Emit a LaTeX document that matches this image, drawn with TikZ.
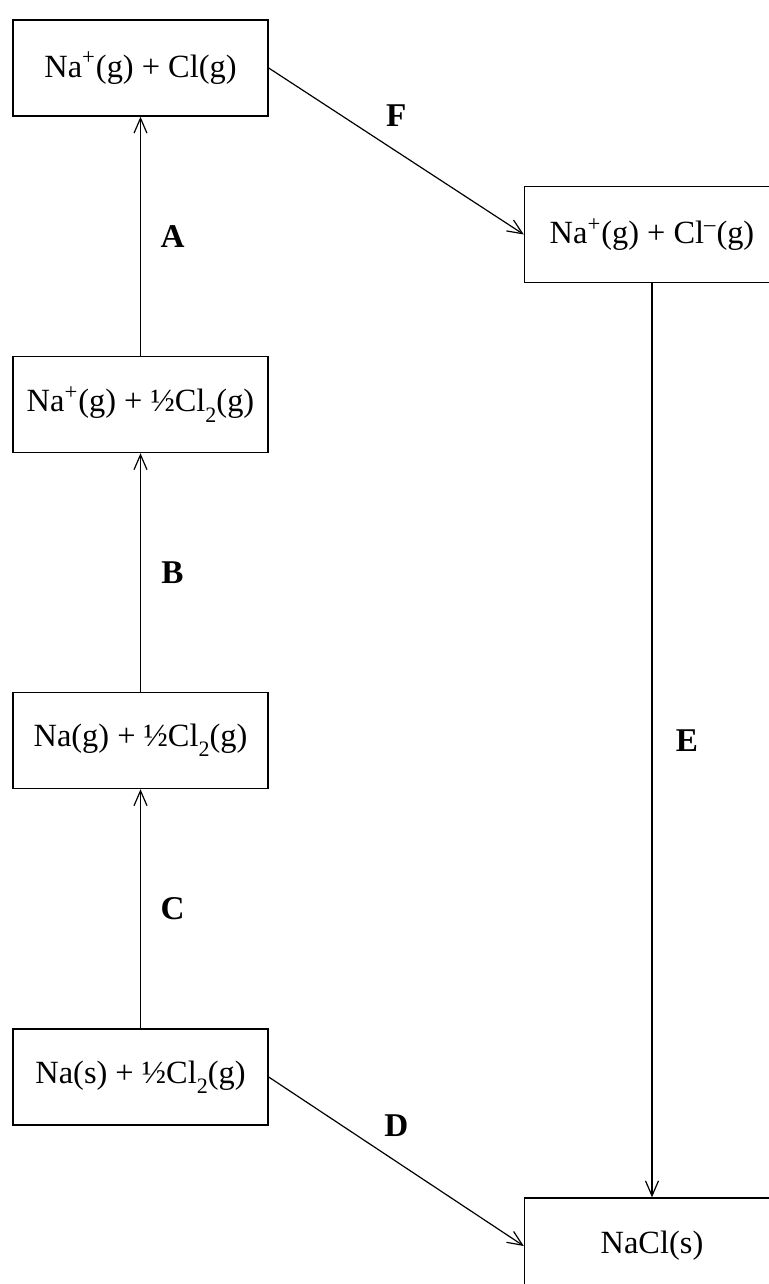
\documentclass[tikz,border=0pt]{standalone}
\usepackage{fontspec}
\setmainfont{Liberation Serif}
\usetikzlibrary{positioning,arrows.meta}
\newcommand\lowtwo{\raisebox{-0.32em}{\fontsize{11}{11}\selectfont 2}}
\newcommand\halfCl{\textonehalf Cl\lowtwo(g)}
\tikzset{
    species/.style={draw, line width=0.7pt, minimum width=127.5pt, minimum height=48pt,
        inner sep=0pt, font=\fontsize{16.2}{20}\selectfont},
    stepname/.style={font=\fontsize{16.6}{20}\selectfont\bfseries, inner sep=0pt},
    pathway/.style={line width=0.6pt, -{Straight Barb[length=7.5pt,width=6.5pt]}}
}

\begin{document}
\begin{tikzpicture}[x=0.5pt,y=-0.5pt]
    \useasboundingbox (0,0) rectangle (768,1284);
    % left column, bottom to top
    \node[species] (NasCl) at (140.5,1077) {Na(s) + \halfCl};
    \node[species] (NagCl) at (140.5,740.5) {Na(g) + \halfCl};
    \node[species] (NaionCl) at (140.5,404.5) {Na\textsuperscript{+}(g) + \halfCl};
    \node[species] (NaionClg) at (140.5,68) {Na\textsuperscript{+}(g) + Cl(g)};
    % right column
    \node[species] (ions) at (652,234.5) {Na\textsuperscript{+}(g) + Cl\textsuperscript{–}(g)};
    \node[species] (NaCls) at (652,1246) {NaCl(s)};

    \draw[pathway] (NasCl) -- node[stepname, midway, xshift=16pt] (C) {C} (NagCl);
    \draw[pathway] (NagCl) -- node[stepname, midway, xshift=16pt] (B) {B} (NaionCl);
    \draw[pathway] (NaionCl) -- node[stepname, midway, xshift=16pt] (A) {A} (NaionClg);
    \draw[pathway] (NaionClg.east) -- node[stepname, midway, yshift=18pt] (F) {F} (ions.west);
    \draw[pathway] (ions) -- node[stepname, midway, xshift=17.5pt] (E) {E} (NaCls);
    \draw[pathway] (NasCl.east) -- node[stepname, midway, yshift=18pt] (D) {D} (NaCls.west);
\end{tikzpicture}
\end{document}
